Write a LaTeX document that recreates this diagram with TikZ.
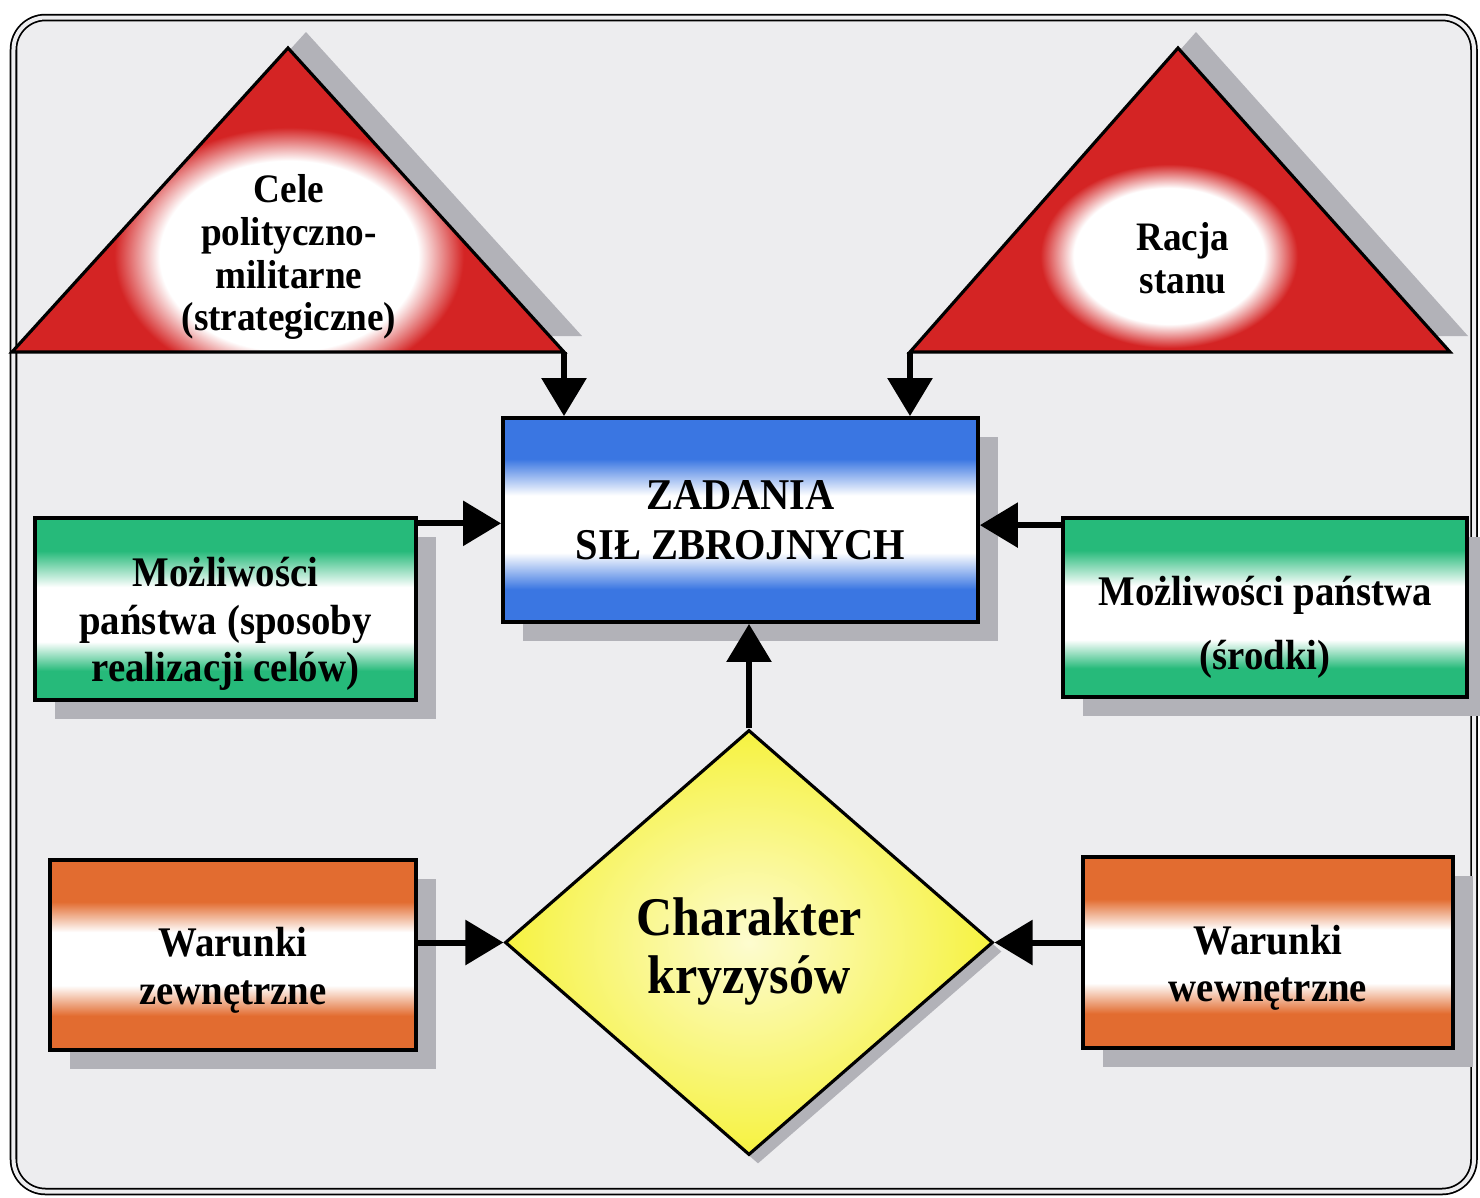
\documentclass[tikz,border=0pt]{standalone}
\usepackage{fontspec}
\setmainfont{Liberation Serif}[FakeStretch=0.92]
\usetikzlibrary{arrows.meta,positioning,shapes.geometric,shadows}

\definecolor{bggray}{RGB}{237,237,239}
\definecolor{shgray}{RGB}{178,178,184}
\definecolor{trired}{RGB}{212,36,36}
\definecolor{zblue}{RGB}{58,118,226}
\definecolor{mgreen}{RGB}{38,186,122}
\definecolor{worange}{RGB}{226,108,48}
\definecolor{kyellow}{RGB}{246,242,64}
\pgfdeclareradialshading{redglow}{\pgfpointorigin}{color(0bp)=(white); color(17bp)=(white); color(23bp)=(trired); color(50bp)=(trired)}
\pgfdeclareverticalshading{blueband}{100bp}{color(0bp)=(zblue); color(33bp)=(zblue); color(42bp)=(white); color(56bp)=(white); color(65bp)=(zblue); color(100bp)=(zblue)}
\pgfdeclareverticalshading{greenband}{100bp}{color(0bp)=(mgreen); color(33bp)=(mgreen); color(41bp)=(white); color(56bp)=(white); color(66bp)=(mgreen); color(100bp)=(mgreen)}
\pgfdeclareverticalshading{orangeband}{100bp}{color(0bp)=(worange); color(34bp)=(worange); color(42bp)=(white); color(56bp)=(white); color(64bp)=(worange); color(100bp)=(worange)}

\begin{document}
\begin{tikzpicture}[>={Triangle[length=0.38cm,width=0.44cm]}]
    \tikzset{
      box/.style={
        draw,
        line width=1.1pt,
        rectangle,
        align=center,
        inner sep=0pt,
        shade, shading=#1,
        font=\bfseries\fontsize{12}{13.4}\selectfont,
        drop shadow={shadow xshift=0.2cm, shadow yshift=-0.19cm, fill=shgray, opacity=1}
      },
      tri/.style={draw, line width=0.9pt},
      glow/.style={shade, shading=redglow, inner sep=0pt},
      trilabel/.style={align=center, inner sep=0pt, font=\bfseries\fontsize{11.5}{12.2}\selectfont},
      arr/.style={->, line width=0.06cm}
    };

    \useasboundingbox (0,0) rectangle (14.80,-11.97);
    \draw[line width=0.5pt, double=bggray, double distance=0.04cm, rounded corners=0.32cm, fill=bggray]
      (0.135,-0.175) rectangle (14.74,-11.915);

    \coordinate (celeL) at (0.12,-3.52);
    \coordinate (celeA) at (2.88,-0.48);
    \coordinate (celeR) at (5.64,-3.52);
    \coordinate (racjaL) at (9.10,-3.52);
    \coordinate (racjaA) at (11.78,-0.48);
    \coordinate (racjaR) at (14.50,-3.52);

    \fill[trired, drop shadow={shadow xshift=0.18cm, shadow yshift=0.16cm, fill=shgray, opacity=1}]
      (celeL) -- (celeA) -- (celeR) -- cycle;
    \fill[trired, drop shadow={shadow xshift=0.18cm, shadow yshift=0.16cm, fill=shgray, opacity=1}]
      (racjaL) -- (racjaA) -- (racjaR) -- cycle;
    \begin{scope}
      \clip (celeL) -- (celeA) -- (celeR) -- cycle;
      \node[glow, minimum width=3.8cm, minimum height=2.8cm] (celeglow) at (2.89,-2.56) {};
    \end{scope}
    \begin{scope}
      \clip (racjaL) -- (racjaA) -- (racjaR) -- cycle;
      \node[glow, minimum width=2.8cm, minimum height=2.0cm] (racjaglow) at (11.69,-2.56) {};
    \end{scope}
    \draw[tri] (celeL) -- (celeA) -- (celeR) -- cycle;
    \draw[tri] (racjaL) -- (racjaA) -- (racjaR) -- cycle;

    \node[trilabel] (cele) at (2.89,-2.57) {Cele\\polityczno-\\militarne\\(strategiczne)};
    \node[trilabel] (racja) at (11.83,-2.58) {Racja\\stanu};

    \node[box=blueband, minimum width=4.75cm, minimum height=2.04cm,
      font=\bfseries\fontsize{12.5}{14.2}\selectfont] (zadania) at (7.405,-5.20) {ZADANIA\\SIŁ ZBROJNYCH};
    \node[box=greenband, minimum width=3.81cm, minimum height=1.82cm] (mozliwosci) at (2.255,-6.09)
      {\rule{0pt}{16.8pt}Możliwości\\państwa (sposoby\\realizacji celów)};
    \node[box=greenband, minimum width=4.04cm, minimum height=1.79cm,
      font=\bfseries\fontsize{12}{18.2}\selectfont] (srodki) at (12.65,-6.075)
      {\rule{0pt}{19.7pt}Możliwości państwa\\(środki)};

    \node[diamond, draw, line width=0.9pt, inner sep=0pt, minimum width=4.88cm, minimum height=4.25cm,
      shade, inner color=kyellow!25!white, outer color=kyellow, align=center,
      font=\bfseries\fontsize{15.5}{16.6}\selectfont,
      drop shadow={shadow xshift=0.09cm, shadow yshift=-0.09cm, fill=shgray, opacity=1}]
      (charakter) at (7.49,-9.425) {\rule{0pt}{15.8pt}Charakter\\kryzysów};

    \node[box=orangeband, minimum width=3.66cm, minimum height=1.90cm] (zewnetrzne) at (2.33,-9.55)
      {\rule{0pt}{17pt}Warunki\\zewnętrzne};
    \node[box=orangeband, minimum width=3.70cm, minimum height=1.91cm] (wewnetrzne) at (12.68,-9.525)
      {\rule{0pt}{17pt}Warunki\\wewnętrzne};

    \draw[arr] (celeR) -- (celeR |- zadania.north);
    \draw[arr] (racjaL) -- (racjaL |- zadania.north);
    \draw[arr] (mozliwosci.24) -- (mozliwosci.24 -| zadania.west);
    \draw[arr] (srodki.158) -- (srodki.158 -| zadania.east);
    \draw[arr] (charakter.north) -- (charakter.north |- zadania.south);
    \draw[arr] (zewnetrzne.east |- charakter.west) -- (charakter.west);
    \draw[arr] (wewnetrzne.west |- charakter.east) -- (charakter.east);

  \end{tikzpicture}
\end{document}
